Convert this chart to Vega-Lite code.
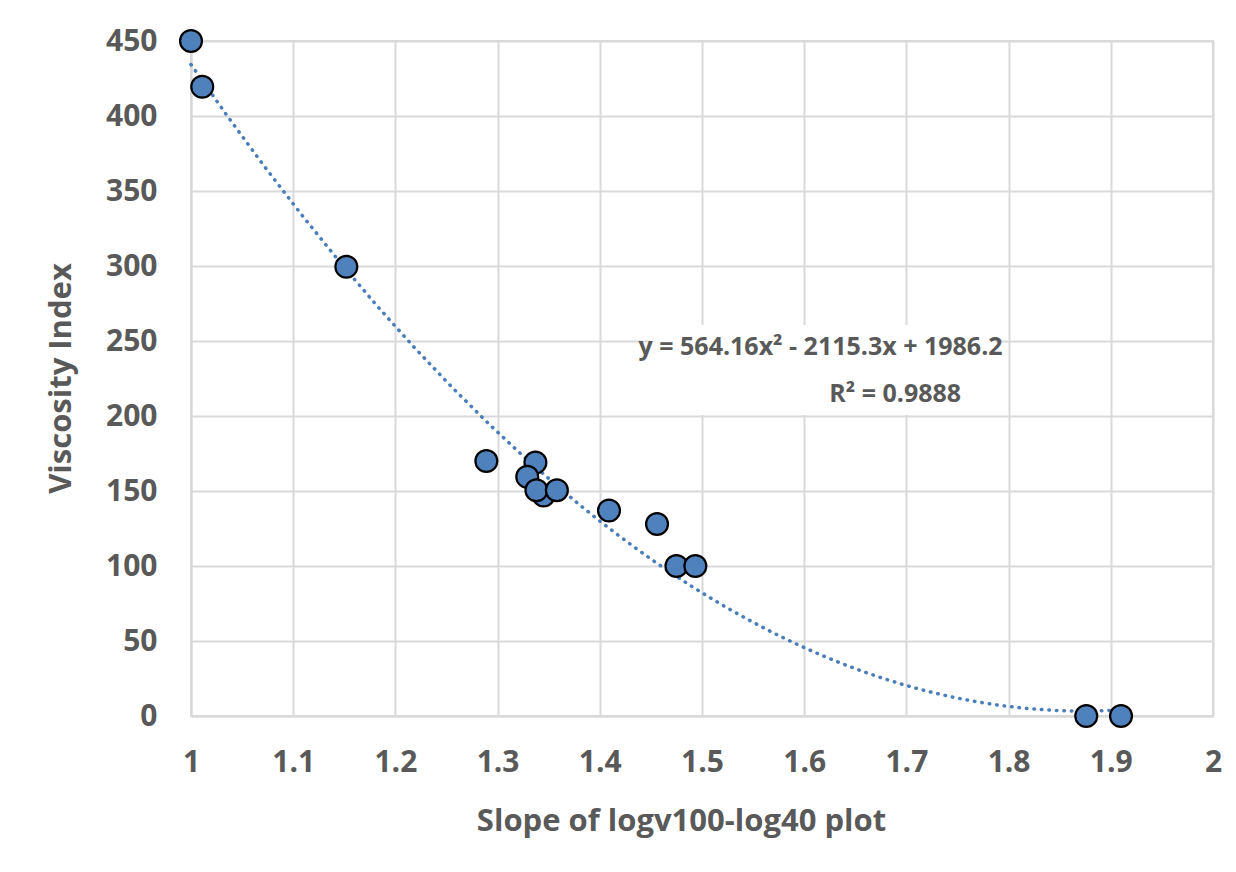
{
  "$schema": "https://vega.github.io/schema/vega-lite/v6.json",
  "width": 1022,
  "height": 675,
  "autosize": {"type": "none"},
  "padding": {"left": 191, "top": 41, "right": 23, "bottom": 156},
  "background": "white",
  "config": {
    "font": "Open Sans",
    "view": {"stroke": "#d9d9d9", "strokeWidth": 2},
    "axis": {
      "gridColor": "#d9d9d9",
      "gridWidth": 2,
      "domainColor": "#d9d9d9",
      "domainWidth": 2,
      "ticks": false,
      "labelFlush": false,
      "labelFont": "Open Sans",
      "labelFontWeight": "bold",
      "labelFontSize": 30,
      "labelColor": "#595959",
      "titleFont": "Open Sans",
      "titleFontWeight": "bold",
      "titleFontSize": 31,
      "titleColor": "#595959"
    }
  },
  "datasets": {
    "points": [
      {"slope": 1.0, "VI": 450},
      {"slope": 1.011, "VI": 419.5},
      {"slope": 1.152, "VI": 299.5},
      {"slope": 1.289, "VI": 170},
      {"slope": 1.337, "VI": 169},
      {"slope": 1.329, "VI": 159.5},
      {"slope": 1.345, "VI": 147},
      {"slope": 1.338, "VI": 150.5},
      {"slope": 1.358, "VI": 150.5},
      {"slope": 1.409, "VI": 137},
      {"slope": 1.456, "VI": 128},
      {"slope": 1.475, "VI": 100},
      {"slope": 1.4935, "VI": 100},
      {"slope": 1.876, "VI": 0},
      {"slope": 1.91, "VI": 0}
    ],
    "single": [{"id": 1}]
  },
  "layer": [
    {
      "data": {"name": "points"},
      "transform": [
        {"regression": "VI", "on": "slope", "method": "poly", "order": 2}
      ],
      "mark": {
        "type": "line",
        "color": "#4a7ebb",
        "strokeWidth": 3.5,
        "strokeDash": [0.5, 7],
        "strokeCap": "round"
      },
      "encoding": {
        "x": {
          "field": "slope",
          "type": "quantitative",
          "scale": {"domain": [1, 2], "nice": false, "zero": false},
          "axis": {
            "title": "Slope of logv100-log40 plot",
            "format": "~g",
            "values": [1, 1.1, 1.2, 1.3, 1.4, 1.5, 1.6, 1.7, 1.8, 1.9, 2],
            "labelPadding": 31,
            "titleX": 490,
            "titleY": 90,
            "titleBaseline": "top"
          }
        },
        "y": {
          "field": "VI",
          "type": "quantitative",
          "scale": {"domain": [0, 450], "nice": false},
          "axis": {
            "title": "Viscosity Index",
            "values": [0, 50, 100, 150, 200, 250, 300, 350, 400, 450],
            "labelPadding": 34,
            "titleX": -130,
            "titleY": 337,
            "titleAngle": 270,
            "titleBaseline": "middle",
            "titleAlign": "center"
          }
        }
      }
    },
    {
      "data": {"name": "single"},
      "mark": {"type": "rect", "fill": "white"},
      "encoding": {
        "x": {"datum": 1.449, "type": "quantitative"},
        "x2": {"datum": 1.787},
        "y": {"datum": 260.7, "type": "quantitative"},
        "y2": {"datum": 200.7}
      }
    },
    {
      "data": {"name": "points"},
      "mark": {
        "type": "point",
        "filled": true,
        "fill": "#4f81bd",
        "stroke": "black",
        "strokeWidth": 2.2,
        "opacity": 1,
        "size": 480
      },
      "encoding": {
        "x": {"field": "slope", "type": "quantitative"},
        "y": {"field": "VI", "type": "quantitative"}
      }
    },
    {
      "data": {"name": "single"},
      "mark": {
        "type": "text",
        "text": "y = 564.16x² - 2115.3x + 1986.2",
        "font": "Open Sans",
        "fontWeight": "bold",
        "fontSize": 25,
        "color": "#595959",
        "align": "center",
        "baseline": "middle"
      },
      "encoding": {
        "x": {"datum": 1.616, "type": "quantitative"},
        "y": {"datum": 246, "type": "quantitative"}
      }
    },
    {
      "data": {"name": "single"},
      "mark": {
        "type": "text",
        "text": "R² = 0.9888",
        "font": "Open Sans",
        "fontWeight": "bold",
        "fontSize": 25,
        "color": "#595959",
        "align": "center",
        "baseline": "middle"
      },
      "encoding": {
        "x": {"datum": 1.689, "type": "quantitative"},
        "y": {"datum": 215, "type": "quantitative"}
      }
    }
  ]
}
